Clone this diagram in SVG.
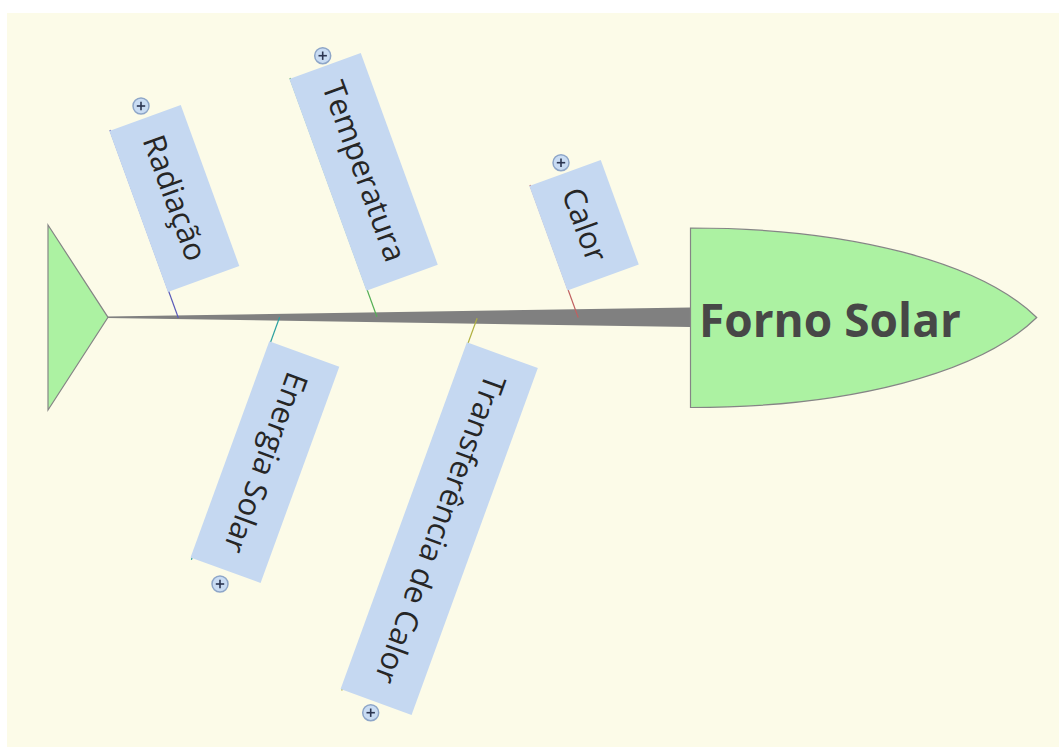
<svg xmlns="http://www.w3.org/2000/svg" width="1059" height="747" viewBox="0 0 1059 747">
  <style>
    .fish { fill: #acf2a2; stroke: #858585; stroke-width: 1.2; }
    .box { fill: #c5d8f1; }
    .lbl { font-family: "Open Sans", "Noto Sans", sans-serif; font-size: 31px; fill: #262626; text-anchor: middle; }
    .title { font-family: "Open Sans", "Noto Sans", sans-serif; font-size: 46px; font-weight: bold; fill: #474747; }
    .plus-c { fill: #c9dcf3; stroke: #8ea6c8; stroke-width: 1.5; }
    .plus-l { stroke: #2b3550; stroke-width: 1.6; }
    .bone { stroke-width: 1.2; fill: none; }
  </style>
  <defs>
    <g id="plus">
      <circle class="plus-c" cx="0" cy="0" r="8"/>
      <line class="plus-l" x1="-4.2" y1="0" x2="4.2" y2="0"/>
      <line class="plus-l" x1="0" y1="-4.2" x2="0" y2="4.2"/>
    </g>
  </defs>
  <rect x="7" y="13" width="1052" height="734" fill="#fcfbe8"/>

  <g id="connectors">
    <polygon points="107,316.6 690,307.5 690,327 107,318" fill="#808080"/>
    <line class="bone" x1="110" y1="130" x2="178.4" y2="318" stroke="#5a5ab8"/>
    <line class="bone" x1="290" y1="78" x2="376.9" y2="316.7" stroke="#55b055"/>
    <line class="bone" x1="530" y1="185" x2="578.2" y2="317.5" stroke="#c06060"/>
    <line class="bone" x1="279.6" y1="317.3" x2="191.4" y2="559.7" stroke="#2aa0a0"/>
    <line class="bone" x1="477.1" y1="318.3" x2="341.7" y2="690.5" stroke="#b0b040"/>
  </g>

  <g id="tail">
    <polygon class="fish" points="48,225 108,317.3 48,410"/>
  </g>

  <g id="head">
    <path class="fish" d="M690.5,228 C850,228 980,262 1036.7,317.5 C980,373 850,407.5 690.5,407.5 Z"/>
    <text class="title" x="699" y="337">Forno Solar</text>
  </g>

  <g id="radiacao">
    <g transform="translate(110,130) rotate(70)">
      <rect class="box" x="0.8" y="-75" width="171.2" height="76"/>
      <text class="lbl" x="86" y="-27">Radiação</text>
    </g>
    <use href="#plus" x="141" y="106"/>
  </g>

  <g id="temperatura">
    <g transform="translate(290,78) rotate(70)">
      <rect class="box" x="0.8" y="-75" width="225.2" height="76"/>
      <text class="lbl" x="113" y="-27">Temperatura</text>
    </g>
    <use href="#plus" x="322.7" y="55.7"/>
  </g>

  <g id="calor">
    <g transform="translate(530,185) rotate(70)">
      <rect class="box" x="0.8" y="-75" width="111.2" height="76"/>
      <text class="lbl" x="56" y="-27">Calor</text>
    </g>
    <use href="#plus" x="561" y="162.7"/>
  </g>

  <g id="energia-solar">
    <g transform="translate(270.7,341.7) rotate(110)">
      <rect class="box" x="0" y="-73" width="230.2" height="74.5"/>
      <text class="lbl" x="115.5" y="-26">Energia Solar</text>
    </g>
    <use href="#plus" x="220" y="584"/>
  </g>

  <g id="transferencia">
    <g transform="translate(468.3,342.7) rotate(110)">
      <rect class="box" x="0" y="-74" width="369.2" height="75.5"/>
      <text class="lbl" x="185" y="-26.5">Transferência de Calor</text>
    </g>
    <use href="#plus" x="370.7" y="712.7"/>
  </g>
</svg>
